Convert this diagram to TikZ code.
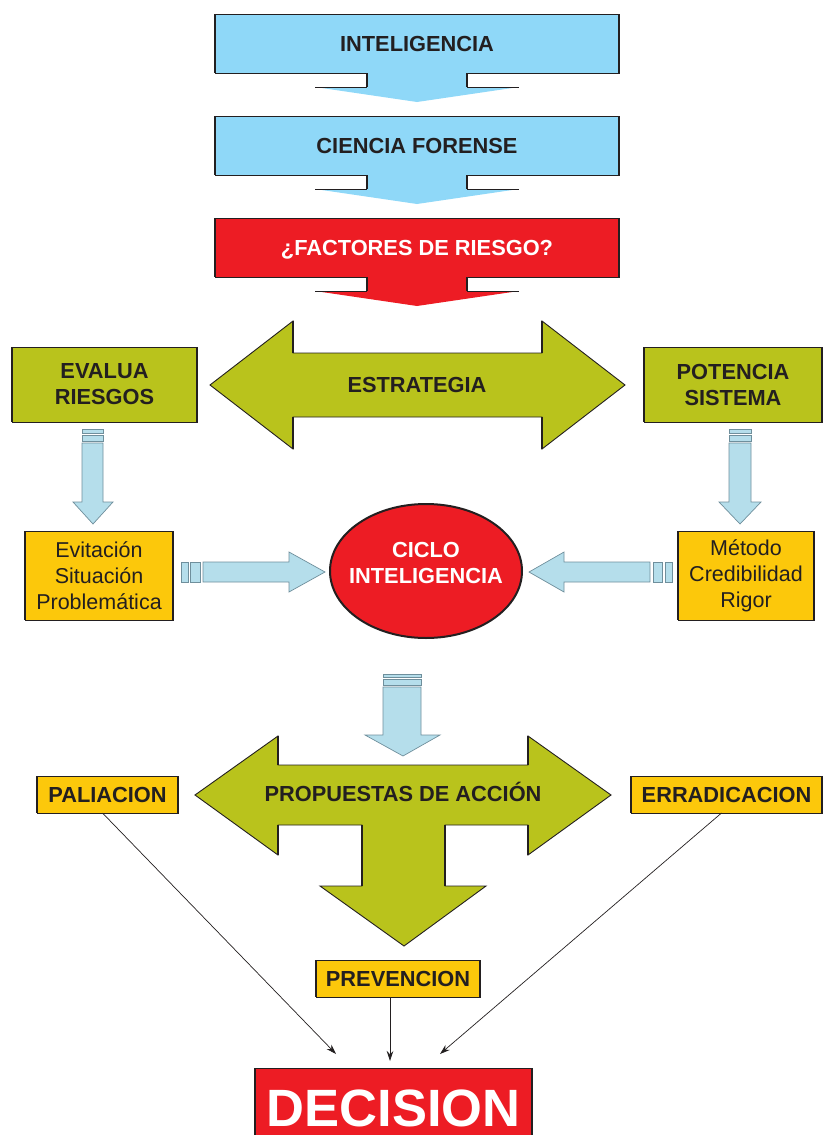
\documentclass[tikz,border=0pt]{standalone}
\usepackage{fontspec}
\setmainfont{Liberation Sans}
\usetikzlibrary{arrows.meta,shapes.geometric}
\definecolor{ink}{HTML}{231F20}
\definecolor{skyb}{HTML}{8FD8F8}
\definecolor{redc}{HTML}{ED1C24}
\definecolor{olive}{HTML}{B9C31C}
\definecolor{gold}{HTML}{FCC80B}
\definecolor{lblue}{HTML}{B5DEEB}
\definecolor{lbedge}{HTML}{6F8F9C}
\newcommand\sides[1]{\draw[side] (#1.north west) -- (#1.south west) (#1.north east) -- (#1.south east);}
\newcommand\flatarrow[2]{%
  \fill[#2] (367,#1-0.5) -- (367,#1+14) -- (315,#1+14) -- (417,#1+29) -- (519,#1+14) -- (467,#1+14) -- (467,#1-0.5) -- cycle;
  \draw[ink, line width=0.7pt] (315,#1+14) -- (367,#1+14) (467,#1+14) -- (519,#1+14);
  \draw[side] (367,#1) -- (367,#1+14) (467,#1) -- (467,#1+14);}
\begin{document}
\begin{tikzpicture}[x=1pt,y=-1pt,
  bt/.style={font=\fontsize{21.8}{26}\selectfont\bfseries, text=ink, align=center},
  rt/.style={font=\fontsize{21.5}{26}\selectfont, text=ink, align=center},
  one/.style={text height=15.5pt, text depth=0pt},
  boxb/.style={inner sep=0pt, outer sep=0pt, draw=ink, line width=0.6pt, align=center},
  side/.style={draw=ink, line width=2pt},
  sarrow/.style={fill=lblue, draw=lbedge, line width=0.7pt},
  bigarrow/.style={fill=olive, draw=ink, line width=0.9pt},
  conn/.style={draw=ink, line width=0.7pt, -{Stealth[length=10pt,width=6.5pt]}}]
\useasboundingbox (0,0) rectangle (823,1135);

% top column
\node[boxb, fill=skyb, minimum width=404pt, minimum height=59pt, bt, one] (intel) at (417,43.5) {INTELIGENCIA};
\sides{intel}
\flatarrow{73}{skyb}
\node[boxb, fill=skyb, minimum width=404pt, minimum height=59pt, bt, one] (cien) at (417,145.5) {CIENCIA FORENSE};
\sides{cien}
\flatarrow{175}{skyb}
\node[boxb, fill=redc, minimum width=404pt, minimum height=59pt, bt, one, text=white] (fact) at (417,247.5) {¿FACTORES DE RIESGO?};
\sides{fact}
\flatarrow{277}{redc}

% estrategia double arrow
\draw[bigarrow] (210,385) -- (293,321) -- (293,353) -- (542,353) -- (542,321) -- (625,385)
  -- (542,449) -- (542,417) -- (293,417) -- (293,449) -- cycle;
\draw[ink, line width=1.8pt] (293,321) -- (293,353) (293,417) -- (293,449)
  (542,321) -- (542,353) (542,417) -- (542,449);
\node[bt, one] (estr) at (417,385) {ESTRATEGIA};

\node[boxb, fill=olive, minimum width=185pt, minimum height=75pt, bt] (eval) at (104.5,384.5) {EVALUA\\RIESGOS};
\sides{eval}
\node[boxb, fill=olive, minimum width=178pt, minimum height=75pt, bt] (pot) at (733,384.5) {POTENCIA\\SISTEMA};
\sides{pot}

% small vertical arrows
\draw[sarrow] (82,429) rectangle (103,433) (82,435) rectangle (103,441);
\draw[sarrow] (82,443) -- (82,502) -- (73,502) -- (93,524) -- (113,502) -- (103,502) -- (103,443) -- cycle;
\draw[sarrow] (729,429) rectangle (751,433) (729,435) rectangle (751,441);
\draw[sarrow] (729,443) -- (729,502) -- (719,502) -- (740,524) -- (761,502) -- (751,502) -- (751,443) -- cycle;

% gold boxes
\node[boxb, fill=gold, minimum width=148pt, minimum height=89pt, rt] (evit) at (99,575.5) {Evitación\\Situación\\Problemática};
\sides{evit}
\node[boxb, fill=gold, minimum width=136pt, minimum height=89pt, rt] (met) at (746,575.5) {Método\\Credibilidad\\Rigor};
\sides{met}

% horizontal arrows
\draw[sarrow] (181,562) rectangle (188,582) (190,562) rectangle (200,582);
\draw[sarrow] (203,562) -- (289,562) -- (289,552) -- (325,572) -- (289,592) -- (289,582) -- (203,582) -- cycle;
\draw[sarrow] (665,562) rectangle (672,582) (653,562) rectangle (662,582);
\draw[sarrow] (650,562) -- (564,562) -- (564,552) -- (529,572) -- (564,592) -- (564,582) -- (650,582) -- cycle;

% ciclo
\node[ellipse, fill=redc, draw=ink, line width=2pt, minimum width=192pt, minimum height=134pt, inner sep=0pt] (ciclo) at (426,571) {};
\node[bt, text=white] (ciclot) at (426,563) {CICLO\\INTELIGENCIA};

% down arrow to propuestas
\draw[sarrow] (383,674) rectangle (421,677) (383,679) rectangle (421,685);
\draw[sarrow] (383,687) -- (383,735) -- (365,735) -- (403,756) -- (440,735) -- (421,735) -- (421,687) -- cycle;

% T arrow
\draw[bigarrow] (195,795) -- (278,736) -- (278,765) -- (528,765) -- (528,736) -- (611,795)
  -- (528,855) -- (528,825) -- (445,825) -- (445,886) -- (486,886) -- (404,946) -- (320,886)
  -- (362,886) -- (362,825) -- (278,825) -- (278,855) -- cycle;
\draw[ink, line width=1.8pt] (278,736) -- (278,765) (278,825) -- (278,855)
  (528,736) -- (528,765) (528,825) -- (528,855) (362,825) -- (362,886) (445,825) -- (445,886);
\node[bt, one] (prop) at (403,794) {PROPUESTAS DE ACCIÓN};

\node[boxb, fill=gold, minimum width=141pt, minimum height=37pt, bt, one] (pal) at (107.5,794.5) {PALIACION};
\sides{pal}
\node[boxb, fill=gold, minimum width=191pt, minimum height=37pt, bt, one] (err) at (726.5,794.5) {ERRADICACION};
\sides{err}
\node[boxb, fill=gold, minimum width=164pt, minimum height=37pt, bt, one] (prev) at (398,978.5) {PREVENCION};
\sides{prev}

% decision
\node[boxb, fill=redc, minimum width=277pt, minimum height=67pt] (dec) at (393.5,1101.5) {};
\sides{dec}
\node[font=\fontsize{52.5}{60}\selectfont\bfseries, text=white, text height=38pt, text depth=0pt, inner sep=0pt] (dect) at (393.5,1107) {DECISION};

\coordinate (dl) at (336,1054);
\coordinate (dm) at (390,1061);
\coordinate (dr) at (440,1054);
\draw[conn] (pal.south) ++(-5,0) -- (dl);
\draw[conn] (err.south) ++(-5,0) -- (dr);
\draw[conn] (prev.south -| dm) -- (dm);
\end{tikzpicture}
\end{document}
